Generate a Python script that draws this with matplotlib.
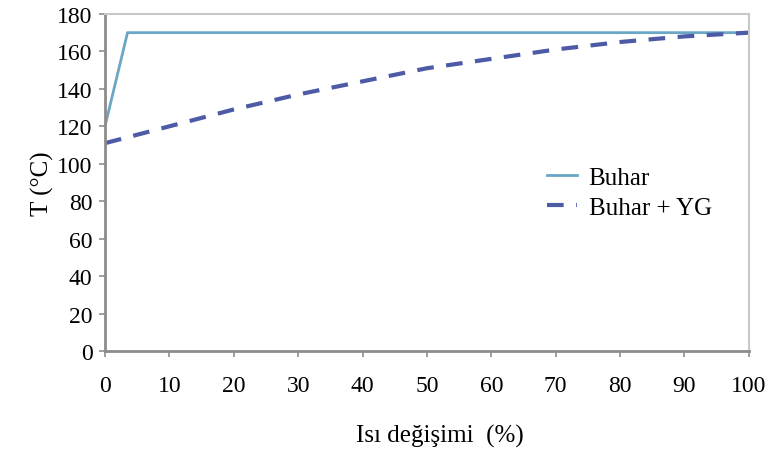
import matplotlib
matplotlib.use('Agg')
import matplotlib.pyplot as plt

# heat exchange share (%) vs temperature (degC)
buhar_x = [0, 3.5, 100]
buhar_t = [120, 170, 170]

yg_x = [0, 10, 20, 30, 40, 50, 60, 70, 80, 90, 100]
yg_t = [111, 120, 129, 137, 144, 151, 156, 161, 165, 168, 170]

xticks = [0, 10, 20, 30, 40, 50, 60, 70, 80, 90, 100]
yticks = [0, 20, 40, 60, 80, 100, 120, 140, 160, 180]

plt.rcParams['font.family'] = ['Liberation Serif', 'DejaVu Serif']
plt.rcParams['font.size'] = 17

fig = plt.figure(figsize=(7.72, 4.52), dpi=100)
ax = fig.add_axes([0.136, 0.221, 0.834, 0.746])

ax.plot(buhar_x, buhar_t, color='#6aa6c6', lw=2, label='Buhar')
ax.plot(yg_x, yg_t, color='#4d5ba6', lw=3, dashes=(4, 3), label='Buhar + YG')

ax.set_xlim(0, 100)
ax.set_ylim(0, 180)
ax.set_xticks(xticks)
ax.set_yticks(yticks)

for side in ['left', 'bottom']:
    ax.spines[side].set_color('#8c8c8c')
    ax.spines[side].set_linewidth(2)
for side in ['top', 'right']:
    ax.spines[side].set_color('#c8c8c8')
    ax.spines[side].set_linewidth(1.5)

ax.tick_params(axis='y', direction='out', length=4, width=1.2, color='#8c8c8c', pad=5)
ax.tick_params(axis='x', direction='out', length=4, width=1.2, color='#8c8c8c', pad=13)

ax.set_xlabel('Isı değişimi  (%)', fontsize=18)
ax.xaxis.set_label_coords(0.52, -0.215)
ax.set_ylabel('T (°C)', fontsize=18, labelpad=2)

ax.legend(loc='upper left', bbox_to_anchor=(0.652, 0.615), frameon=False,
          handlelength=1.2, handletextpad=0.45, labelspacing=0.3, fontsize=18)

plt.savefig('out.png', dpi=100)
